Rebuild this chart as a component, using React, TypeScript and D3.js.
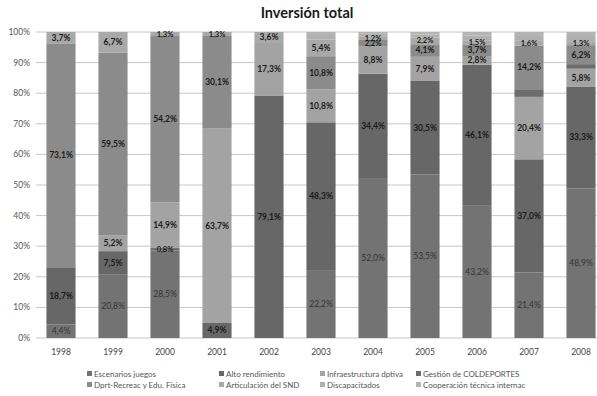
import React from "react";
import * as d3 from "d3";

// Investment share per program, percentage of yearly total
const years = ["1998", "1999", "2000", "2001", "2002", "2003", "2004", "2005", "2006", "2007", "2008"];

const seriesNames = [
  "Escenarios juegos",
  "Alto rendimiento",
  "Infraestructura dptiva",
  "Gestión de COLDEPORTES",
  "Dprt-Recreac y Edu. Física",
  "Articulación del SND",
  "Discapacitados",
  "Cooperación técnica internac",
];

const escenariosJuegos = [4.4, 20.8, 28.5, 0, 0, 22.2, 52.0, 53.5, 43.2, 21.4, 48.9];
const altoRendimiento = [18.7, 7.5, 0.8, 4.9, 79.1, 48.3, 34.4, 30.5, 46.1, 37.0, 33.3];
const infraestructura = [0, 5.2, 14.9, 63.7, 17.3, 10.8, 8.8, 7.9, 2.8, 20.4, 5.8];
const gestionColdeportes = [0, 0, 0, 0, 0, 0, 0, 0, 0, 2.5, 1.5];
const deporteRecreacion = [73.1, 59.5, 54.2, 30.1, 0, 10.8, 2.2, 4.1, 3.7, 14.2, 6.2];
const articulacionSnd = [3.7, 6.7, 1.3, 1.3, 3.6, 5.4, 1.2, 2.2, 1.5, 1.6, 1.3];
const discapacitados = [0, 0, 0, 0, 0, 1.5, 0.8, 1.0, 1.5, 1.6, 1.7];
const cooperacion = [0, 0, 0, 0, 0, 1.0, 0.6, 0.8, 1.2, 1.3, 1.3];

const seriesValues = [
  escenariosJuegos,
  altoRendimiento,
  infraestructura,
  gestionColdeportes,
  deporteRecreacion,
  articulacionSnd,
  discapacitados,
  cooperacion,
];

// which series carry value labels
const labelledSeries = [true, true, true, false, true, true, false, false];

const yTicks = [0, 0.1, 0.2, 0.3, 0.4, 0.5, 0.6, 0.7, 0.8, 0.9, 1];

const colors = ["#737373", "#676767", "#a3a3a3", "#6d6d6d", "#8b8b8b", "#a9a9a9", "#b0b0b0", "#b4b4b4"];
const labelColors = ["#333333", "#1a1a1a", "#1a1a1a", "#1a1a1a", "#1a1a1a", "#1a1a1a", "#1a1a1a", "#1a1a1a"];

const W = 597;
const H = 396;
const FONT = "Lato, 'Open Sans', sans-serif";

export default function App() {
  const rows = years.map((year, i) => {
    const row: Record<string, number | string> = { year };
    seriesNames.forEach((name, s) => {
      row[name] = seriesValues[s][i];
    });
    return row;
  });

  const stacked = d3
    .stack<Record<string, number | string>>()
    .keys(seriesNames)
    .value((d, key) => d[key] as number)
    .offset(d3.stackOffsetExpand)(rows);

  const x = d3.scaleBand<string>().domain(years).range([35, 607]).paddingInner(0.44).paddingOuter(0.22);
  const y = d3.scaleLinear().domain([0, 1]).range([338, 32]);

  const fmt = (v: number) => v.toFixed(1).replace(".", ",") + "%";

  const legendCols = [90, 222, 323, 419];
  const legendRows = [374, 385];

  return (
    <svg
      width={W}
      height={H}
      style={{ position: "fixed", left: 0, top: 0, background: "#fff", fontFamily: FONT }}
    >
      <rect width={W} height={H} fill="#fff" />
      <text x={307} y={18} textAnchor="middle" fontSize={14.5} fontWeight={700} fill="#1a1a1a">
        Inversión total
      </text>

      {yTicks.map((t) => (
        <g key={t}>
          <line x1={36} x2={W} y1={y(t)} y2={y(t)} stroke="#c6c6c6" strokeWidth={1} />
          <text x={30} y={y(t)} dy="0.35em" textAnchor="end" fontSize={8.5} fill="#555">
            {d3.format(".0%")(t)}
          </text>
        </g>
      ))}

      {stacked.map((layer, s) => (
        <g key={layer.key} fill={colors[s]}>
          {layer.map((d, i) =>
            seriesValues[s][i] > 0 ? (
              <rect
                key={years[i]}
                x={x(years[i])}
                width={x.bandwidth()}
                y={y(d[1])}
                height={y(d[0]) - y(d[1])}
              />
            ) : null
          )}
        </g>
      ))}

      {stacked.map((layer, s) =>
        labelledSeries[s]
          ? layer.map((d, i) =>
              seriesValues[s][i] > 0 ? (
                <text
                  key={layer.key + years[i]}
                  x={(x(years[i]) as number) + x.bandwidth() / 2}
                  y={(y(d[0]) + y(d[1])) / 2}
                  dy="0.35em"
                  textAnchor="middle"
                  fontSize={seriesValues[s][i] < 2.5 ? 7.5 : 8.5}
                  fontWeight={s === 0 ? 400 : 700}
                  fill={labelColors[s]}
                >
                  {fmt(seriesValues[s][i])}
                </text>
              ) : null
            )
          : null
      )}

      {years.map((yr) => (
        <text
          key={yr}
          x={(x(yr) as number) + x.bandwidth() / 2}
          y={352}
          dy="0.35em"
          textAnchor="middle"
          fontSize={8.5}
          fill="#444"
        >
          {yr}
        </text>
      ))}

      {seriesNames.map((name, s) => {
        const cx = legendCols[s % 4];
        const cy = legendRows[Math.floor(s / 4)];
        return (
          <g key={name}>
            <rect x={cx - 3} y={cy - 3} width={5} height={5} fill={colors[s]} />
            <text x={cx + 4} y={cy} dy="0.35em" fontSize={8} fill="#555">
              {name}
            </text>
          </g>
        );
      })}
    </svg>
  );
}
